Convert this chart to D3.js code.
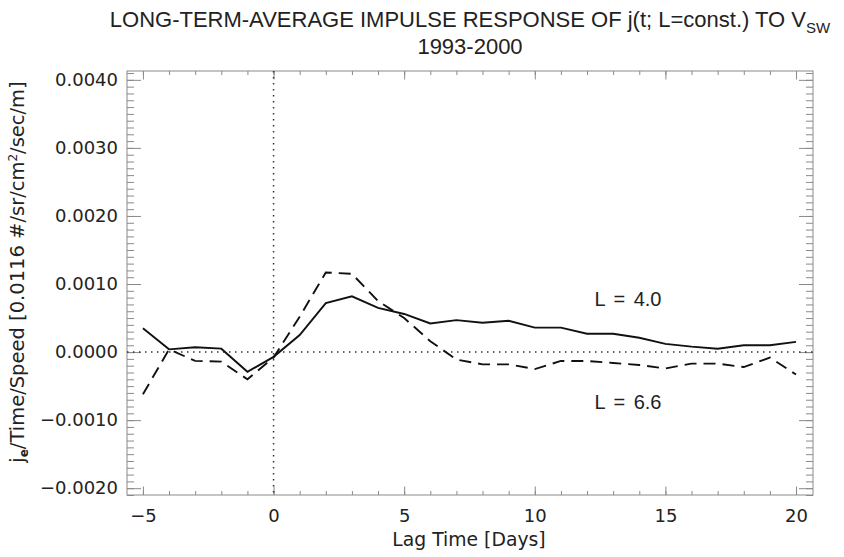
<!DOCTYPE html>
<html>
<head>
<meta charset="utf-8">
<script src="https://cdn.jsdelivr.net/npm/d3@7"></script>
<style>
    body { margin: 0; background: #fff; }
    svg { display: block; }
    .tick text { font-family: "DejaVu Sans", sans-serif; font-size: 18px; fill: #222; }
    .axis path, .axis line { stroke: #8a8a8a; }
</style>
</head>
<body>
<svg width="844" height="557"></svg>
<script>
// lag time in days
let lagDays = [-5, -4, -3, -2, -1, 0, 1, 2, 3, 4, 5, 6, 7, 8, 9, 10, 11, 12, 13, 14, 15, 16, 17, 18, 19, 20];

// L = 4.0 (solid)
let responseL40 = [0.00035, 0.00004, 0.00007, 0.00005, -0.00029, -0.00007, 0.00025, 0.00072, 0.00082, 0.00065,
    0.00056, 0.00042, 0.00047, 0.00043, 0.00046, 0.00036, 0.00036, 0.00027, 0.00027, 0.00021,
    0.00012, 0.00008, 0.00005, 0.0001, 0.0001, 0.00015];

// L = 6.6 (dashed)
let responseL66 = [-0.00062, 0.00004, -0.00013, -0.00014, -0.0004, -0.00008, 0.00052, 0.00117, 0.00115, 0.00075,
    0.0005, 0.00016, -0.00011, -0.00018, -0.00018, -0.00025, -0.00013, -0.00013, -0.00016, -0.00019,
    -0.00024, -0.00017, -0.00017, -0.00022, -0.00008, -0.00033];

let xTicks = [-5, 0, 5, 10, 15, 20];
let yTicks = [-0.002, -0.001, 0, 0.001, 0.002, 0.003, 0.004];

let svg = d3.select("svg");

let plotLeft = 127, plotRight = 813, plotTop = 71, plotBottom = 495;

let x = d3.scaleLinear()
    .domain([-5.61, 20.65])
    .range([plotLeft, plotRight]);

let y = d3.scaleLinear()
    .domain([-0.0021, 0.00413])
    .range([plotBottom, plotTop]);

let xMinor = d3.range(-5, 21, 1);
let yMinor = d3.range(-21, 42, 1).map(d => d / 10000);

// minor ticks
svg.append("g").attr("class", "axis")
    .attr("transform", `translate(0,${plotBottom})`)
    .call(d3.axisBottom(x).tickValues(xMinor).tickSize(-4).tickFormat(""));
svg.append("g").attr("class", "axis")
    .attr("transform", `translate(0,${plotTop})`)
    .call(d3.axisTop(x).tickValues(xMinor).tickSize(-4).tickFormat(""));
svg.append("g").attr("class", "axis")
    .attr("transform", `translate(${plotLeft},0)`)
    .call(d3.axisLeft(y).tickValues(yMinor).tickSize(-7).tickFormat(""));
svg.append("g").attr("class", "axis")
    .attr("transform", `translate(${plotRight},0)`)
    .call(d3.axisRight(y).tickValues(yMinor).tickSize(-7).tickFormat(""));

// major ticks
svg.append("g").attr("class", "axis")
    .attr("transform", `translate(0,${plotBottom})`)
    .call(d3.axisBottom(x).tickValues(xTicks).tickSize(-8.5).tickPadding(14)
        .tickFormat(d => d < 0 ? "\u2212" + Math.abs(d) : d));
svg.append("g").attr("class", "axis")
    .attr("transform", `translate(0,${plotTop})`)
    .call(d3.axisTop(x).tickValues(xTicks).tickSize(-8.5).tickFormat(""));
svg.append("g").attr("class", "axis")
    .attr("transform", `translate(${plotLeft},0)`)
    .call(d3.axisLeft(y).tickValues(yTicks).tickSize(-14).tickPadding(9)
        .tickFormat(d => (d < 0 ? "\u2212" : "") + d3.format(".4f")(Math.abs(d))));
svg.append("g").attr("class", "axis")
    .attr("transform", `translate(${plotRight},0)`)
    .call(d3.axisRight(y).tickValues(yTicks).tickSize(-14).tickFormat(""));

svg.selectAll(".axis .domain").remove();

// frame
svg.append("rect")
    .attr("x", plotLeft).attr("y", plotTop)
    .attr("width", plotRight - plotLeft).attr("height", plotBottom - plotTop)
    .attr("fill", "none").attr("stroke", "#8a8a8a");

// zero lines
svg.append("line")
    .attr("x1", plotLeft).attr("x2", plotRight)
    .attr("y1", y(0)).attr("y2", y(0))
    .attr("stroke", "#333").attr("stroke-width", 1.5)
    .attr("stroke-dasharray", "1.5,4.5");
svg.append("line")
    .attr("x1", x(0)).attr("x2", x(0))
    .attr("y1", plotTop).attr("y2", plotBottom)
    .attr("stroke", "#333").attr("stroke-width", 1.5)
    .attr("stroke-dasharray", "1.5,4.5");

let line = d3.line()
    .x((d, i) => x(lagDays[i]))
    .y(d => y(d));

svg.append("path")
    .attr("d", line(responseL40))
    .attr("fill", "none").attr("stroke", "#111").attr("stroke-width", 1.9);

svg.append("path")
    .attr("d", line(responseL66))
    .attr("fill", "none").attr("stroke", "#111").attr("stroke-width", 1.9)
    .attr("stroke-dasharray", "12,7");

// curve labels
svg.append("text")
    .attr("x", 628).attr("y", 306)
    .attr("text-anchor", "middle")
    .style("font-family", "'Liberation Sans', Arial, sans-serif")
    .style("font-size", "20px").style("word-spacing", "3px").attr("fill", "#222")
    .text("L = 4.0");
svg.append("text")
    .attr("x", 628).attr("y", 409)
    .attr("text-anchor", "middle")
    .style("font-family", "'Liberation Sans', Arial, sans-serif")
    .style("font-size", "20px").style("word-spacing", "3px").attr("fill", "#222")
    .text("L = 6.6");

// axis titles
svg.append("text")
    .attr("x", 469).attr("y", 546)
    .attr("text-anchor", "middle")
    .style("font-family", "'DejaVu Sans', sans-serif")
    .style("font-size", "18.8px").attr("fill", "#222")
    .text("Lag Time [Days]");

let yTitle = svg.append("text")
    .attr("transform", "translate(24,272) rotate(-90)")
    .attr("text-anchor", "middle")
    .style("font-family", "'DejaVu Sans', sans-serif")
    .style("font-size", "19.5px").attr("fill", "#222");
yTitle.append("tspan").text("j");
yTitle.append("tspan").attr("dy", 4).style("font-size", "12px").style("font-weight", "bold").text("e");
yTitle.append("tspan").attr("dy", -4).text("/Time/Speed [0.0116 #/sr/cm");
yTitle.append("tspan").attr("dy", -7).style("font-size", "12px").text("2");
yTitle.append("tspan").attr("dy", 7).text("/sec/m]");

// title
let title = svg.append("text")
    .attr("x", 470).attr("y", 27)
    .attr("text-anchor", "middle")
    .style("font-family", "'Liberation Sans', Arial, sans-serif")
    .style("font-size", "22px").attr("fill", "#222");
title.append("tspan").text("LONG-TERM-AVERAGE IMPULSE RESPONSE OF j(t; L=const.) TO V");
title.append("tspan").attr("dy", 6).style("font-size", "15px").text("SW");

svg.append("text")
    .attr("x", 470).attr("y", 54)
    .attr("text-anchor", "middle")
    .style("font-family", "'Liberation Sans', Arial, sans-serif")
    .style("font-size", "22px").attr("fill", "#222")
    .text("1993-2000");
</script>
</body>
</html>
